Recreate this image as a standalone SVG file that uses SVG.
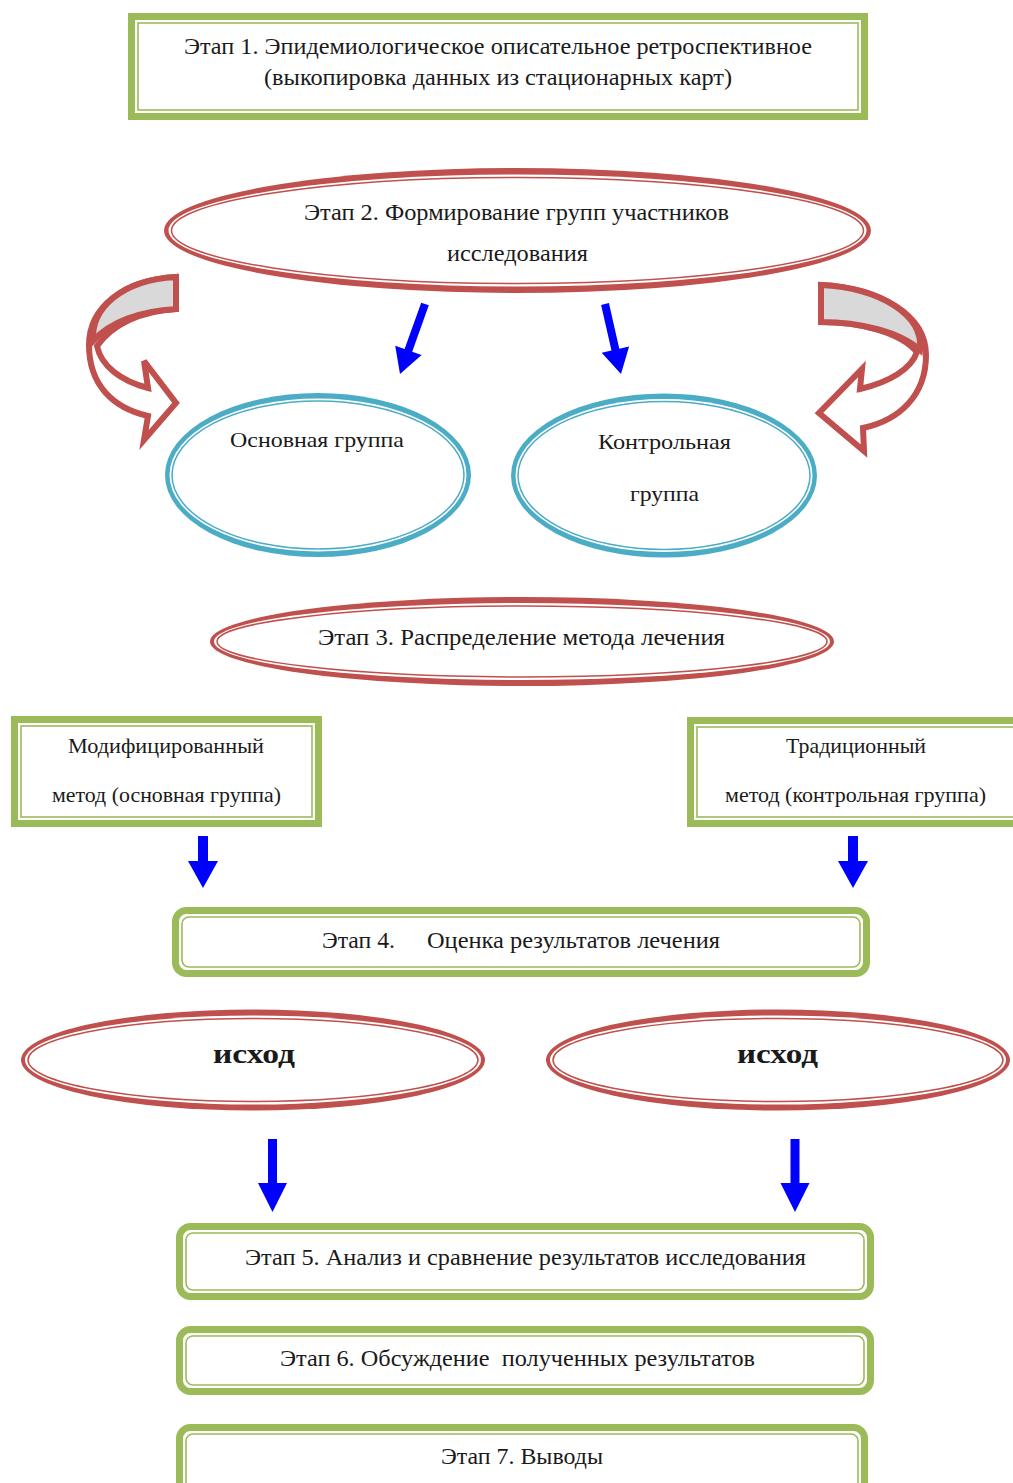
<svg xmlns="http://www.w3.org/2000/svg" width="1013" height="1483" viewBox="0 0 1013 1483">
<style>
.g-out{fill:#fff;stroke:#9bbb59;stroke-width:7}
.g-in{fill:none;stroke:#9bbb59;stroke-width:1.6}
.r-band{fill:#c0504d}
.b-band{fill:#4bacc6}
.hole{fill:#fff}
.r-in{fill:none;stroke:#c0504d;stroke-width:1.5}
.b-in{fill:none;stroke:#4bacc6;stroke-width:1.5}
.t{font-family:"Liberation Serif","Times New Roman",serif;fill:#1a1a1a;font-size:24px;white-space:pre}
.ts{font-family:"Liberation Serif","Times New Roman",serif;fill:#1a1a1a;font-size:21px}
.tb{font-family:"Liberation Serif","Times New Roman",serif;fill:#1a1a1a;font-size:28px;font-weight:bold}
.arr{fill:#0000ff}
.curve{fill:#fff;stroke:#c0504d;stroke-width:6;stroke-linejoin:miter}
.curve-back{fill:#d9d9d9;stroke:#c0504d;stroke-width:6;stroke-linejoin:miter}
</style>
<rect width="1013" height="1483" fill="#fff"/>

<g id="stage1">
<rect class="g-out" x="131.5" y="16.5" width="733" height="100"/>
<rect class="g-in" x="138" y="23" width="720" height="87"/>
<text class="t" x="184" y="54" textLength="628" lengthAdjust="spacingAndGlyphs">Этап 1. Эпидемиологическое описательное ретроспективное</text>
<text class="t" x="264" y="85" textLength="468" lengthAdjust="spacingAndGlyphs">(выкопировка данных из стационарных карт)</text>
</g>

<g id="stage2">
<ellipse class="r-band" cx="517.5" cy="230.5" rx="353.5" ry="62.5"/>
<ellipse class="hole" cx="517.5" cy="230.5" rx="349" ry="56"/>
<ellipse class="r-in" cx="517.5" cy="230.5" rx="346" ry="53"/>
<text class="t" x="304" y="220" textLength="425" lengthAdjust="spacingAndGlyphs">Этап 2. Формирование групп участников</text>
<text class="t" x="447" y="261" textLength="141" lengthAdjust="spacingAndGlyphs">исследования</text>
</g>

<g id="curved-left">
<path class="curve" d="M176,277 C122,280 89,308 89,345 C89,385 113,408 148,416 L144,440 L176,403 L144,361 L148,388 C121,381 101,366 97,346 C112,325 140,311 176,309 Z"/>
<path class="curve-back" d="M176,277 C122,280 91,308 93,341 C110,322 140,311 176,309 Z"/>
</g>

<g id="curved-right">
<path class="curve" d="M821,285 C880,288 926,315 926,355 C926,395 900,420 863,428 L864,451 L819,413 L862,369 L860,389 C890,382 911,369 917,352 C900,332 860,322 821,322 Z"/>
<path class="curve-back" d="M821,285 C880,288 924,315 920,350 C900,332 860,322 821,322 Z"/>
</g>

<g id="main-group">
<ellipse class="b-band" cx="318" cy="475" rx="153" ry="82"/>
<ellipse class="hole" cx="318" cy="475" rx="148.5" ry="76.5"/>
<ellipse class="b-in" cx="318" cy="475" rx="146" ry="74"/>
<text class="ts" x="230" y="447" textLength="174" lengthAdjust="spacingAndGlyphs">Основная группа</text>
</g>

<g id="control-group">
<ellipse class="b-band" cx="664" cy="475.5" rx="153" ry="82"/>
<ellipse class="hole" cx="664" cy="475.5" rx="148.5" ry="76.5"/>
<ellipse class="b-in" cx="664" cy="475.5" rx="146" ry="74"/>
<text class="ts" x="598" y="449" textLength="133" lengthAdjust="spacingAndGlyphs">Контрольная</text>
<text class="ts" x="630" y="501" textLength="69" lengthAdjust="spacingAndGlyphs">группа</text>
</g>

<g id="stage3">
<ellipse class="r-band" cx="522" cy="641.5" rx="312" ry="44.5"/>
<ellipse class="hole" cx="522" cy="641.5" rx="308" ry="38.5"/>
<ellipse class="r-in" cx="522" cy="641.5" rx="305" ry="35.5"/>
<text class="t" x="318" y="645" textLength="407" lengthAdjust="spacingAndGlyphs">Этап 3. Распределение метода лечения</text>
</g>

<g id="modified-method">
<rect class="g-out" x="14.5" y="719.5" width="304" height="104"/>
<rect class="g-in" x="21" y="726" width="291" height="91"/>
<text class="ts" x="68" y="753" textLength="196" lengthAdjust="spacingAndGlyphs">Модифицированный</text>
<text class="ts" x="52" y="802" textLength="229" lengthAdjust="spacingAndGlyphs">метод (основная группа)</text>
</g>

<g id="traditional-method">
<rect class="g-out" x="690.5" y="720.5" width="340" height="103"/>
<rect class="g-in" x="697" y="727" width="327" height="90"/>
<text class="ts" x="786" y="753" textLength="140" lengthAdjust="spacingAndGlyphs">Традиционный</text>
<text class="ts" x="725" y="802" textLength="261" lengthAdjust="spacingAndGlyphs">метод (контрольная группа)</text>
</g>

<g id="stage4">
<rect class="g-out" x="175.5" y="910.5" width="691" height="63" rx="11"/>
<rect class="g-in" x="182" y="917" width="678" height="50" rx="7"/>
<text class="t" x="322" y="948" textLength="73" lengthAdjust="spacingAndGlyphs">Этап 4.</text>
<text class="t" x="427" y="948" textLength="293" lengthAdjust="spacingAndGlyphs">Оценка результатов лечения</text>
</g>

<g id="outcome-left">
<ellipse class="r-band" cx="253" cy="1060" rx="232" ry="50.5"/>
<ellipse class="hole" cx="253" cy="1060" rx="228" ry="44.5"/>
<ellipse class="r-in" cx="253" cy="1060" rx="225" ry="41.5"/>
<text class="tb" x="213" y="1063" textLength="82" lengthAdjust="spacingAndGlyphs">исход</text>
</g>

<g id="outcome-right">
<ellipse class="r-band" cx="778" cy="1060" rx="232" ry="50.5"/>
<ellipse class="hole" cx="778" cy="1060" rx="228" ry="44.5"/>
<ellipse class="r-in" cx="778" cy="1060" rx="225" ry="41.5"/>
<text class="tb" x="737" y="1063" textLength="81" lengthAdjust="spacingAndGlyphs">исход</text>
</g>

<g id="stage5">
<rect class="g-out" x="179.5" y="1226.5" width="691" height="70" rx="11"/>
<rect class="g-in" x="186" y="1233" width="678" height="57" rx="7"/>
<text class="t" x="245" y="1265" textLength="561" lengthAdjust="spacingAndGlyphs">Этап 5. Анализ и сравнение результатов исследования</text>
</g>

<g id="stage6">
<rect class="g-out" x="179.5" y="1329.5" width="691" height="62" rx="11"/>
<rect class="g-in" x="186" y="1336" width="678" height="49" rx="7"/>
<text class="t" x="280" y="1366" textLength="475" lengthAdjust="spacingAndGlyphs">Этап 6. Обсуждение  полученных результатов</text>
</g>

<g id="stage7">
<rect class="g-out" x="179.5" y="1427.5" width="685" height="80" rx="11"/>
<rect class="g-in" x="186" y="1434" width="672" height="67" rx="7"/>
<text class="t" x="441" y="1464" textLength="162" lengthAdjust="spacingAndGlyphs">Этап 7. Выводы</text>
</g>

<g id="connectors">
<polygon class="arr" points="421.2,302.7 428.8,305.3 412.2,351.7 421.6,355.1 400,374 395.2,345.7 404.6,349.1"/>
<polygon class="arr" points="601.1,304.9 608.9,303.1 619.3,348.7 629.1,346.5 621,374 601.7,352.7 611.5,350.5"/>
<polygon class="arr" points="198,836 208,836 208,861 218,861 203,888 188,861 198,861"/>
<polygon class="arr" points="848,836 858,836 858,861 868,861 853,888 838,861 848,861"/>
<polygon class="arr" points="268,1139 277,1139 277,1183 287,1183 272.5,1212 258,1183 268,1183"/>
<polygon class="arr" points="790.5,1139 799.5,1139 799.5,1183 809.5,1183 795,1212 780.5,1183 790.5,1183"/>
</g>
</svg>
